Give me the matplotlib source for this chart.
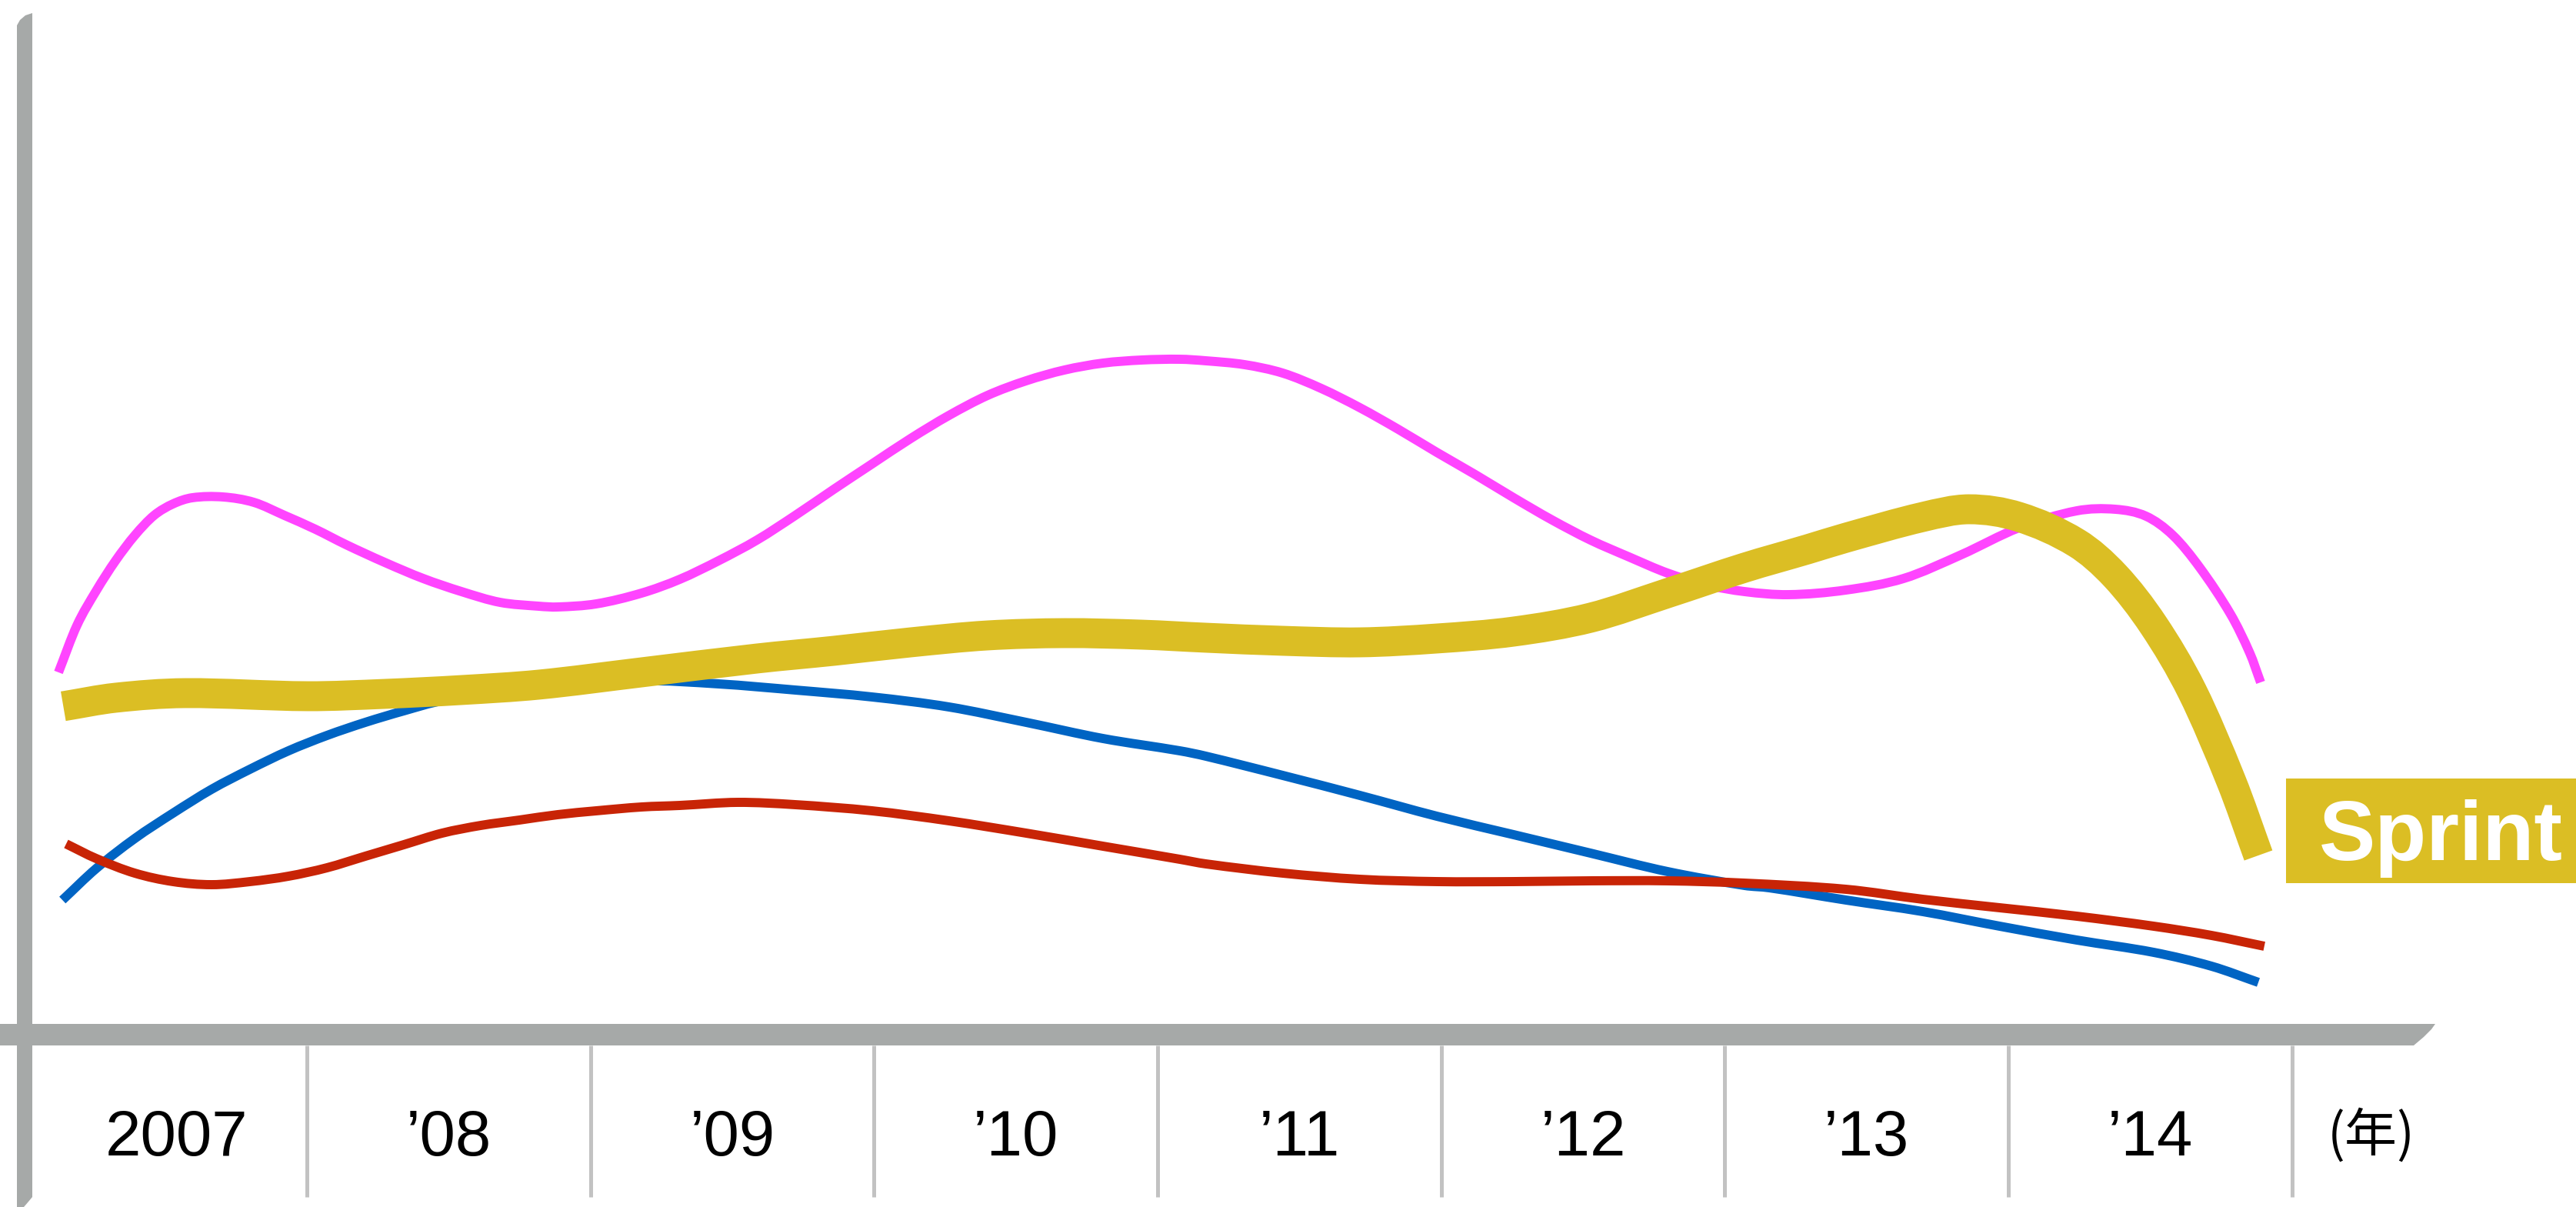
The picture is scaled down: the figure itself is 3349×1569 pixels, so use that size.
import matplotlib
matplotlib.use("Agg")
import matplotlib.pyplot as plt
import numpy as np
from matplotlib.patches import Polygon, Rectangle, PathPatch
from matplotlib.path import Path

# ---------------- data ----------------
years = [2007, 2008, 2009, 2010, 2011, 2012, 2013, 2014]
year_labels = ["2007", "’08", "’09", "’10", "’11", "’12", "’13", "’14"]
unit_label = "(年)"
sprint_label = "Sprint"

magenta_t = [2007.124, 2007.189, 2007.257, 2007.325, 2007.393, 2007.461, 2007.528, 2007.596,
             2007.704, 2007.813, 2007.921, 2008.030, 2008.138, 2008.274, 2008.410, 2008.545,
             2008.681, 2008.817, 2008.884, 2009.020, 2009.180, 2009.315, 2009.451, 2009.587,
             2009.722, 2009.858, 2009.993, 2010.129, 2010.264, 2010.400, 2010.536, 2010.671,
             2010.807, 2010.943, 2011.078, 2011.170, 2011.306, 2011.441, 2011.577, 2011.713,
             2011.848, 2011.984, 2012.120, 2012.255, 2012.391, 2012.526, 2012.662, 2012.798,
             2012.933, 2013.069, 2013.224, 2013.427, 2013.630, 2013.834, 2014.037, 2014.241,
             2014.377, 2014.485, 2014.580, 2014.675, 2014.784, 2014.851, 2014.889]
magenta_v = [45.7, 51.8, 56.3, 60.2, 63.5, 66.1, 67.6, 68.4,
             68.5, 67.8, 66.1, 64.3, 62.3, 60.0, 57.9, 56.2,
             54.8, 54.3, 54.2, 54.6, 56.0, 57.8, 60.2, 62.9,
             66.1, 69.5, 72.8, 76.1, 79.1, 81.7, 83.6, 85.0,
             85.9, 86.3, 86.4, 86.2, 85.7, 84.6, 82.6, 80.1,
             77.3, 74.3, 71.4, 68.4, 65.5, 62.9, 60.7, 58.6,
             57.1, 56.2, 55.8, 56.4, 57.9, 61.0, 64.5, 66.7,
             66.9, 66.0, 63.5, 59.3, 53.2, 48.2, 44.4]

sprint_t = [2007.141, 2007.325, 2007.569, 2008.003, 2008.274, 2008.545, 2008.817, 2009.180,
            2009.587, 2009.858, 2010.129, 2010.400, 2010.671, 2010.943, 2011.170, 2011.441,
            2011.713, 2011.984, 2012.255, 2012.526, 2012.798, 2013.069, 2013.292, 2013.427,
            2013.698, 2013.861, 2014.037, 2014.241, 2014.377, 2014.512, 2014.648, 2014.786,
            2014.881]
sprint_v = [41.3, 42.4, 43.0, 42.6, 42.9, 43.4, 44.1, 45.7,
            47.5, 48.5, 49.6, 50.5, 50.8, 50.6, 50.2, 49.8,
            49.6, 50.1, 51.0, 52.8, 56.0, 59.3, 61.7, 63.2,
            65.9, 66.9, 65.9, 62.5, 58.2, 51.8, 43.2, 31.5,
            21.9]

blue_t = [2007.138, 2007.257, 2007.393, 2007.528, 2007.664, 2007.799, 2007.935, 2008.071,
          2008.206, 2008.342, 2008.477, 2008.817, 2009.180, 2009.451, 2009.722, 2009.993,
          2010.264, 2010.536, 2010.807, 2011.078, 2011.170, 2011.441, 2011.713, 2011.984,
          2012.255, 2012.526, 2012.798, 2013.069, 2013.156, 2013.427, 2013.698, 2013.969,
          2014.241, 2014.512, 2014.716, 2014.881]
blue_v = [16.1, 20.2, 24.1, 27.4, 30.5, 33.1, 35.5, 37.5,
          39.2, 40.7, 42.0, 43.6, 44.6, 44.2, 43.4, 42.5,
          41.2, 39.2, 37.1, 35.5, 34.8, 32.3, 29.7, 27.0,
          24.6, 22.2, 19.8, 18.0, 17.7, 16.1, 14.6, 12.7,
          10.9, 9.3, 7.5, 5.4]

red_t = [2007.151, 2007.257, 2007.393, 2007.528, 2007.664, 2007.799, 2007.935, 2008.071,
         2008.206, 2008.342, 2008.477, 2008.613, 2008.749, 2008.884, 2009.020, 2009.180,
         2009.315, 2009.519, 2009.722, 2009.993, 2010.264, 2010.536, 2010.807, 2011.078,
         2011.170, 2011.441, 2011.713, 2011.984, 2012.255, 2012.526, 2012.798, 2013.069,
         2013.427, 2013.698, 2013.969, 2014.241, 2014.512, 2014.716, 2014.902]
red_v = [23.4, 21.5, 19.6, 18.5, 18.1, 18.5, 19.2, 20.3,
         21.8, 23.3, 24.8, 25.8, 26.5, 27.2, 27.7, 28.2,
         28.4, 28.8, 28.5, 27.7, 26.4, 24.8, 23.1, 21.4,
         20.8, 19.6, 18.8, 18.5, 18.5, 18.6, 18.6, 18.3,
         17.5, 16.2, 15.1, 14.0, 12.7, 11.5, 10.1]

# ---------------- styles ----------------
W, H, DPI = 3349, 1569, 100
C_MAGENTA = "#ff44ff"
C_GOLD = "#dbbe24"
C_BLUE = "#0064c3"
C_RED = "#c82406"
C_BAR = "#a6a9a8"
C_SEP = "#c2c2c2"

fig = plt.figure(figsize=(W / DPI, H / DPI), dpi=DPI)
fig.patch.set_facecolor("white")
ax = fig.add_axes([0, 0, 1, 1])
ax.set_xlim(2006.9178, 2016.0011)
ax.set_ylim(-23.8, 133.1)
ax.set_autoscale_on(False)
ax.axis("off")


def fp(x, y):
    return (x / W, 1 - y / H)


def smooth_line(t, v, color, lw, z):
    """Draw a smooth curve through the data points (cubic Hermite rendered as Bezier)."""
    x = np.asarray(t, float)
    y = np.asarray(v, float)
    n = len(x)
    m = np.empty(n)
    m[0] = (y[1] - y[0]) / (x[1] - x[0])
    m[-1] = (y[-1] - y[-2]) / (x[-1] - x[-2])
    m[1:-1] = (y[2:] - y[:-2]) / (x[2:] - x[:-2])
    verts = [(x[0], y[0])]
    codes = [Path.MOVETO]
    for i in range(n - 1):
        h = x[i + 1] - x[i]
        verts += [(x[i] + h / 3, y[i] + m[i] * h / 3),
                  (x[i + 1] - h / 3, y[i + 1] - m[i + 1] * h / 3),
                  (x[i + 1], y[i + 1])]
        codes += [Path.CURVE4] * 3
    patch = PathPatch(Path(verts, codes), facecolor="none", edgecolor=color, lw=lw,
                      capstyle="butt", joinstyle="round", zorder=z)
    ax.add_patch(patch)


# axis bars (decoration, pixel placed)
hbar = [fp(0, 1331), fp(3166, 1331), fp(3161, 1338), fp(3151, 1348), fp(3138, 1359), fp(0, 1359)]
fig.patches.append(Polygon(hbar, closed=True, facecolor=C_BAR, edgecolor="none",
                           transform=fig.transFigure, zorder=1))
vbar = [fp(22, 1569), fp(22, 33), fp(26, 26), fp(33, 20), fp(42, 17), fp(42, 1556),
        fp(37, 1562), fp(31, 1569)]
fig.patches.append(Polygon(vbar, closed=True, facecolor=C_BAR, edgecolor="none",
                           transform=fig.transFigure, zorder=1))

# year separators
sep_x = [y + 1 for y in years]
ax.vlines(sep_x, -22.5, -2.8, colors=C_SEP, linewidth=3.6, zorder=1)

# year labels (first cell starts at the axis bar, so its label sits a bit right)
for i, (y, lab) in enumerate(zip(years, year_labels)):
    cx = y + (0.54 if i == 0 else 0.5)
    ax.text(cx, -17.1, lab, ha="center", va="baseline", fontsize=60,
            family=["Liberation Sans", "DejaVu Sans"], color="black")
ax.text(2015.28, -14.6, unit_label, ha="center", va="center", fontsize=49,
        family=["Noto Sans CJK JP", "DejaVu Sans"], color="black")

# series lines
lw_thin = 8.6
smooth_line(blue_t, blue_v, C_BLUE, lw_thin, 3)
smooth_line(red_t, red_v, C_RED, lw_thin, 4)
smooth_line(magenta_t, magenta_v, C_MAGENTA, lw_thin, 5)
smooth_line(sprint_t, sprint_v, C_GOLD, 28, 6)

# Sprint tag
x0, y0 = fp(2972, 1148)
x1, y1 = fp(3349, 1012)
fig.patches.append(Rectangle((x0, y0), x1 - x0, y1 - y0, facecolor=C_GOLD, edgecolor="none",
                             transform=fig.transFigure, zorder=2))
tx, ty = fp(3173, 1118)
fig.text(tx, ty, sprint_label, ha="center", va="baseline", fontsize=79, fontweight="bold",
         family=["Liberation Sans", "DejaVu Sans"], color="white")

fig.savefig("out.png", dpi=DPI, facecolor="white")
